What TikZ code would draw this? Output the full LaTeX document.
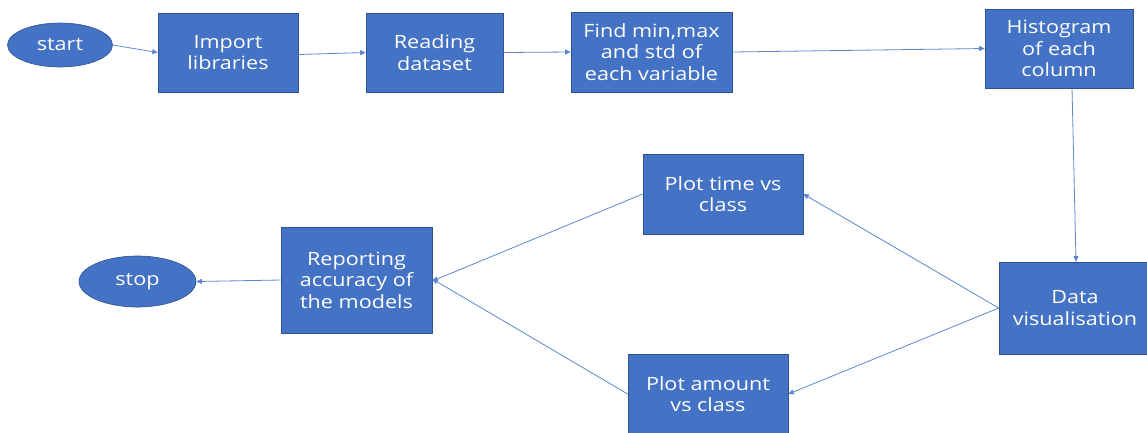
\documentclass[tikz,border=0pt]{standalone}
\usepackage{fontspec}
\setmainfont{Open Sans}[FakeStretch=1.18]
\usepackage{xcolor}
\usetikzlibrary{shapes.geometric,arrows.meta}
\definecolor{boxblue}{HTML}{4472C4}
\definecolor{edgeblue}{HTML}{2F528F}
\definecolor{lineblue}{HTML}{5B87CF}

\begin{document}
\begin{tikzpicture} [x=1pt,y=-1pt,
  box/.style={rectangle,fill=boxblue,draw=edgeblue,line width=0.6pt,text=white,
    align=center,font=\fontsize{18.3}{21.5}\selectfont,inner sep=0pt},
  oval/.style={ellipse,fill=boxblue,draw=edgeblue,line width=0.6pt,text=white,
    font=\fontsize{18.3}{21.5}\selectfont,inner sep=0pt},
  link/.style={draw=lineblue,line width=0.8pt,-{Triangle[width=5pt,length=5.5pt]}}]

\useasboundingbox (0,0) rectangle (1147,432);

\node [oval,minimum width=105,minimum height=44] (start) at (60,45) {start};
\node [box,minimum width=140,minimum height=79] (import) at (228,52.5) {Import\\libraries};
\node [box,minimum width=137,minimum height=79] (read) at (434.5,52.5) {Reading\\dataset};
\node [box,minimum width=161,minimum height=80] (find) at (651.5,52) {Find min,max\\and std of\\each variable};
\node [box,minimum width=148,minimum height=79] (hist) at (1059,48.5) {Histogram\\of each\\column};
\node [box,minimum width=152,minimum height=92] (vis) at (1075,308) {Data\\visualisation};
\node [box,minimum width=160,minimum height=80] (time) at (723,194) {Plot time vs\\class};
\node [box,minimum width=160,minimum height=80] (amount) at (708,394) {Plot amount\\vs class};
\node [box,minimum width=151,minimum height=106] (report) at (356.5,280) {Reporting\\accuracy of\\the models};
\node [oval,minimum width=117,minimum height=51] (stop) at (137.5,281.5) {stop};

\draw [link] (start.east) -- (import.west);
\draw [link] (import.east) ++(0,2) -- (read.west);
\draw [link] (read.east) -- (find.west);
\draw [link] (find.east) -- (hist.west);
\draw [link] ([xshift=13pt]hist.south) -- ([xshift=1pt]vis.north);
\draw [link] (vis.west) -- (time.east);
\draw [link] (vis.west) -- (amount.east);
\draw [link] (time.west) -- ([yshift=-1pt]report.east);
\draw [link] (amount.west) -- ([yshift=1pt]report.east);
\draw [link] (report.west) -- (stop.east);

\end{tikzpicture}
\end{document}
